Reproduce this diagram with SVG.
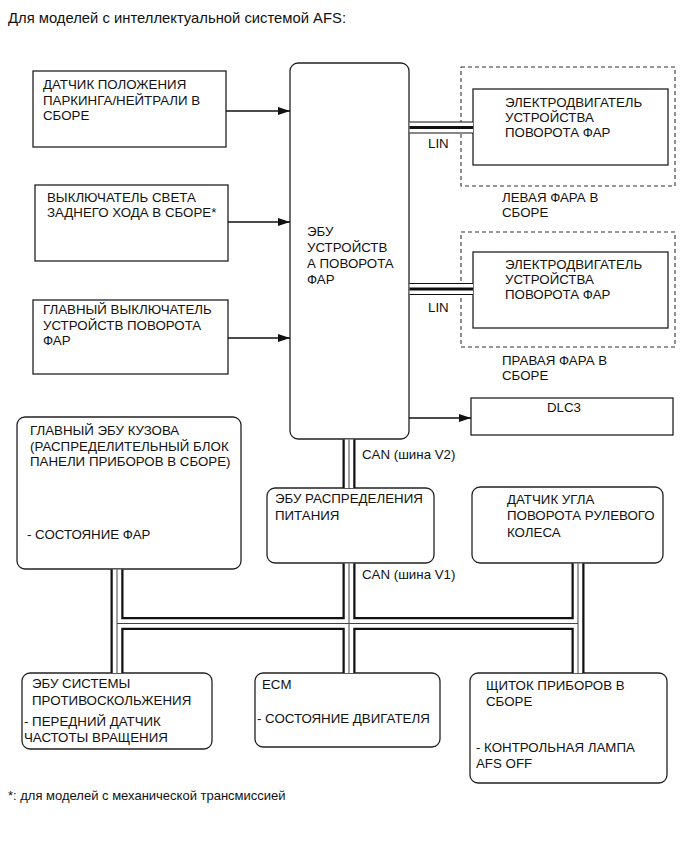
<svg xmlns="http://www.w3.org/2000/svg" width="689" height="853" viewBox="0 0 689 853">
<style>
text{font-family:"Liberation Sans",Arial,sans-serif;font-size:13.3px;fill:#111}
.box{fill:#fff;stroke:#222;stroke-width:1.3}
.dash{fill:none;stroke:#333;stroke-width:1.1;stroke-dasharray:4 3}
.arr{stroke:#111;stroke-width:1.3;fill:none;marker-end:url(#ah)}
.cb{stroke:#111;stroke-width:13;fill:none}
.cw{stroke:#fff;stroke-width:8.5;fill:none}
.cc{stroke:#444;stroke-width:1;fill:none}
.lb{stroke:#111;stroke-width:12;fill:none}
.lw{stroke:#fff;stroke-width:10;fill:none}
.lc{stroke:#111;stroke-width:3;fill:none}
</style>
<defs>
<marker id="ah" markerWidth="12" markerHeight="8" refX="12" refY="4" orient="auto" markerUnits="userSpaceOnUse">
<path d="M0,0 L12,4 L0,8 Z" fill="#111"/>
</marker>
</defs>
<text x="8" y="23" style="font-size:14.8px">Для моделей с интеллектуальной системой AFS:</text>

<g id="park-neutral-sensor"><rect class="box" x="33" y="71" width="193" height="76"/>
<text x="43" y="89">ДАТЧИК ПОЛОЖЕНИЯ</text><text x="43" y="105">ПАРКИНГА/НЕЙТРАЛИ В</text><text x="43" y="120">СБОРЕ</text></g>
<g id="reverse-switch"><rect class="box" x="35" y="185" width="193" height="76"/>
<text x="47" y="202">ВЫКЛЮЧАТЕЛЬ СВЕТА</text><text x="47" y="217">ЗАДНЕГО ХОДА В СБОРЕ*</text></g>
<g id="main-switch"><rect class="box" x="33" y="300" width="195" height="74"/>
<text x="43" y="314">ГЛАВНЫЙ ВЫКЛЮЧАТЕЛЬ</text><text x="43" y="330">УСТРОЙСТВ ПОВОРОТА</text><text x="43" y="345">ФАР</text></g>
<g id="swivel-ecu"><rect class="box" x="290" y="63" width="119" height="376" rx="8"/>
<text x="307" y="236">ЭБУ</text><text x="307" y="252">УСТРОЙСТВ</text><text x="307" y="268">А ПОВОРОТА</text><text x="307" y="284">ФАР</text></g>
<g id="left-headlamp"><rect class="dash" x="461" y="67" width="214" height="119"/>
<rect class="box" x="473" y="89" width="195" height="76"/>
<text x="505" y="107">ЭЛЕКТРОДВИГАТЕЛЬ</text><text x="505" y="122">УСТРОЙСТВА</text><text x="505" y="137">ПОВОРОТА ФАР</text>
<text x="502" y="202">ЛЕВАЯ ФАРА В</text><text x="502" y="217">СБОРЕ</text></g>
<g id="right-headlamp"><rect class="dash" x="461" y="232" width="214" height="115"/>
<rect class="box" x="473" y="252" width="195" height="76"/>
<text x="505" y="269">ЭЛЕКТРОДВИГАТЕЛЬ</text><text x="505" y="284">УСТРОЙСТВА</text><text x="505" y="299">ПОВОРОТА ФАР</text>
<text x="502" y="365">ПРАВАЯ ФАРА В</text><text x="502" y="380">СБОРЕ</text></g>
<g id="dlc3"><rect class="box" x="471" y="398" width="202" height="37"/><text x="547" y="412">DLC3</text></g>
<g id="body-ecu"><rect class="box" x="17" y="417" width="224" height="152" rx="8"/>
<text x="30" y="435">ГЛАВНЫЙ ЭБУ КУЗОВА</text><text x="30" y="451">(РАСПРЕДЕЛИТЕЛЬНЫЙ БЛОК</text><text x="30" y="466">ПАНЕЛИ ПРИБОРОВ В СБОРЕ)</text><text x="27" y="539">- СОСТОЯНИЕ ФАР</text></g>
<g id="power-ecu"><rect class="box" x="267" y="488" width="167" height="75" rx="8"/>
<text x="275" y="503">ЭБУ РАСПРЕДЕЛЕНИЯ</text><text x="275" y="520">ПИТАНИЯ</text></g>
<g id="steering-sensor"><rect class="box" x="472" y="487" width="191" height="76" rx="8"/>
<text x="507" y="504">ДАТЧИК УГЛА</text><text x="507" y="520">ПОВОРОТА РУЛЕВОГО</text><text x="507" y="537">КОЛЕСА</text></g>
<g id="abs-ecu"><rect class="box" x="22" y="673" width="190" height="76" rx="8"/>
<text x="32" y="688">ЭБУ СИСТЕМЫ</text><text x="32" y="705">ПРОТИВОСКОЛЬЖЕНИЯ</text><text x="24" y="726">- ПЕРЕДНИЙ ДАТЧИК</text><text x="24" y="742">ЧАСТОТЫ ВРАЩЕНИЯ</text></g>
<g id="ecm"><rect class="box" x="255" y="673" width="185" height="74" rx="8"/>
<text x="262" y="689">ECM</text><text x="257" y="723">- СОСТОЯНИЕ ДВИГАТЕЛЯ</text></g>
<g id="combination-meter"><rect class="box" x="470" y="673" width="197" height="110" rx="8"/>
<text x="486" y="690">ЩИТОК ПРИБОРОВ В</text><text x="486" y="706">СБОРЕ</text><text x="476" y="752">- КОНТРОЛЬНАЯ ЛАМПА</text><text x="476" y="768">AFS OFF</text></g>

<g id="connectors">
<line class="arr" x1="226" y1="111" x2="290" y2="111"/>
<line class="arr" x1="228" y1="222" x2="290" y2="222"/>
<line class="arr" x1="228" y1="338" x2="290" y2="338"/>
<line class="arr" x1="409" y1="418" x2="471" y2="418"/>
<path class="lb" d="M409.5 127.5H473M409.5 289H473"/>
<path class="lw" d="M409.5 127.5H473M409.5 289H473"/>
<path class="lc" d="M409.5 127.5H473M409.5 289H473"/>
<path class="cb" d="M349 439.5V488M117 569.5V673M349 563.5V673M578 563.5V673M117 623.5H578"/>
<path class="cw" d="M349 439.5V488M117 569.5V673M349 563.5V673M578 563.5V673M117 623.5H578"/>
<path class="cc" d="M349 439.5V488M117 569.5V673M349 563.5V673M578 563.5V673M117 623.5H578"/>
<text x="428" y="148">LIN</text>
<text x="428" y="312">LIN</text>
<text x="362" y="459">CAN (шина V2)</text>
<text x="362" y="579">CAN (шина V1)</text>
</g>
<text x="8" y="800" style="font-size:13px">*: для моделей с механической трансмиссией</text>
</svg>
